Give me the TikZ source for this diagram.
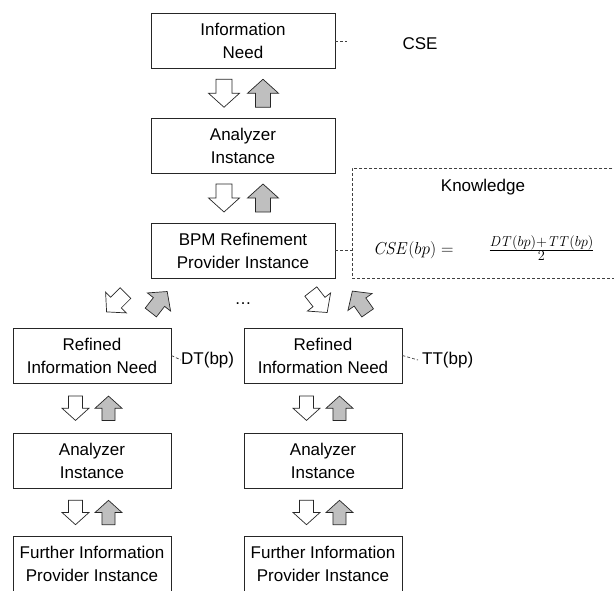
\documentclass[tikz,border=0pt]{standalone}
\usepackage[no-math]{fontspec}
\setmainfont{Liberation Sans}
\usetikzlibrary{calc}
\DeclareMathSizes{17}{17}{13.5}{10}

\tikzset{
  box/.style={draw=black!85, line width=0.8pt, minimum height=55pt, align=center, inner sep=0pt},
  wide/.style={box, minimum width=184pt},
  narrow/.style={box, minimum width=158pt},
  lbl/.style={inner sep=0pt},
  tie/.style={draw=black!75, line width=0.7pt, dash pattern=on 3pt off 2pt},
  arrowline/.style={draw=black!85, line width=0.7pt, line join=miter},
  % hollow block arrow (request direction), pointing along +x before rotation
  reqarrow/.pic={\path[arrowline, fill=white]
      (-14,-8) -- (0,-8) -- (0,-15.5) -- (14,0) -- (0,15.5) -- (0,8) -- (-14,8) -- cycle;},
  % grey block arrow (response direction)
  resarrow/.pic={\path[arrowline, fill=black!25]
      (-14,-7.5) -- (0,-7.5) -- (0,-15.5) -- (14,0) -- (0,15.5) -- (0,7.5) -- (-14,7.5) -- cycle;},
}

\begin{document}
\begin{tikzpicture}[x=1pt, y=-1pt, font=\fontsize{17}{23}\selectfont]
\useasboundingbox (0,0) rectangle (614,590);

% central chain
\node[wide] (need) at (243,41) {Information\\Need};
\node[wide] (ana)  at (243,145.5) {Analyzer\\Instance};
\node[wide] (bpm)  at (243,250.5) {BPM Refinement\\Provider Instance};

% left branch
\node[narrow] (refL) at (92,355.5) {Refined\\Information Need};
\node[narrow] (anaL) at (92,461) {Analyzer\\Instance};
\node[narrow] (furL) at (92,564) {Further Information\\Provider Instance};

% right branch
\node[narrow] (refR) at (323,355.5) {Refined\\Information Need};
\node[narrow] (anaR) at (323,461) {Analyzer\\Instance};
\node[narrow] (furR) at (323,564) {Further Information\\Provider Instance};

% annotations
\node[lbl] (cse) at (420,43.5) {CSE};
\coordinate (cseend) at (347,41);
\draw[tie] (need.east) -- (cseend);

\node[tie, minimum width=270pt, minimum height=110pt, anchor=north west, inner sep=0pt] (know) at (352,168) {};
\node[lbl] (knowtitle) at (483,187.5) {Knowledge};
\node[lbl, anchor=west] (formula) at (373,248)
  {$\mathit{CSE}(bp) = \hspace{30pt} \frac{\mathit{DT}(bp)+\mathit{TT}(bp)}{2}$};
\draw[tie] (bpm.east) -- (bpm.east -| know.west);

\node[lbl, anchor=west] (dt) at (181,360) {DT(bp)};
\draw[tie] (refL.east) -- (dt.west);
\node[lbl, anchor=west] (tt) at (422,360) {TT(bp)};
\draw[tie] (refR.east) -- ([xshift=-4pt]tt.west);

\node[lbl] (dots) at (243,304) {\ldots};

% block arrows on the central chain
\pic[rotate=-90] at ($(need.south)!.5!(ana.north)+(-19,0)$) {reqarrow};
\pic[rotate=90]  at ($(need.south)!.5!(ana.north)+(20,0)$)  {resarrow};
\pic[rotate=-90] at ($(ana.south)!.5!(bpm.north)+(-19,0)$)  {reqarrow};
\pic[rotate=90]  at ($(ana.south)!.5!(bpm.north)+(20,0)$)   {resarrow};

% diagonal arrows towards the branches
\pic[rotate=225, scale=0.95] at (116,302.5) {reqarrow};
\pic[rotate=52,  scale=0.95] at (159,302)   {resarrow};
\pic[rotate=-52, scale=0.95] at (319,302)   {reqarrow};
\pic[rotate=125, scale=0.95] at (360,302)   {resarrow};

% block arrows on the branches
\foreach \a/\b in {refL/anaL, anaL/furL, refR/anaR, anaR/furR}{
  \pic[rotate=-90, scale=0.87] at ($(\a.south)!.5!(\b.north)+(-16.5,0)$) {reqarrow};
  \pic[rotate=90,  scale=0.87] at ($(\a.south)!.5!(\b.north)+(16.5,0)$)  {resarrow};
}
\end{tikzpicture}
\end{document}
